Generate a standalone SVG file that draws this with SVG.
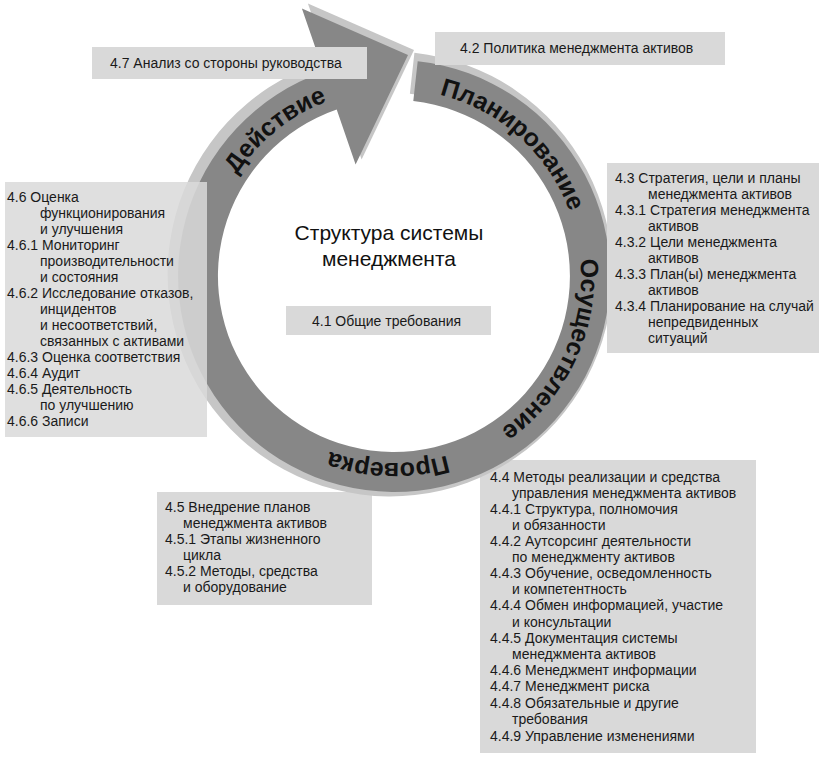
<svg xmlns="http://www.w3.org/2000/svg" xmlns:xlink="http://www.w3.org/1999/xlink" width="822" height="759" viewBox="0 0 822 759">
<style>
.box{fill:#d9d9d9}
.t{font-family:"Liberation Sans",Arial,sans-serif;font-size:14px;fill:#1a1a1a}
.title{font-family:"Liberation Sans",Arial,sans-serif;font-size:21px;fill:#111;text-anchor:middle}
.rt{font-family:"Liberation Sans",Arial,sans-serif;font-size:25px;font-weight:bold;fill:#111;text-anchor:middle}
.dark{fill:#878787}
.light{fill:#c6c6c6}
</style>
<defs>
<path id="ringOnly" d="M417.7,61.3 A216,216 0 1 1 323.7,71.8 L336.7,109.6 A176,176 0 1 0 413.3,101.1 Z"/>
<path id="tp" d="M394,89 A187,187 0 0 1 394,463 A187,187 0 0 1 394,89" fill="none"/>
</defs>
<rect width="822" height="759" fill="#ffffff"/>

<g id="node-4-4">
<rect class="box" x="480" y="460" width="276" height="293"/>
<text class="t">
<tspan x="490" y="482">4.4 Методы реализации и средства</tspan>
<tspan x="512" y="498">управления менеджмента активов</tspan>
<tspan x="490" y="514">4.4.1 Структура, полномочия</tspan>
<tspan x="512" y="530">и обязанности</tspan>
<tspan x="490" y="546">4.4.2 Аутсорсинг деятельности</tspan>
<tspan x="512" y="562">по менеджменту активов</tspan>
<tspan x="490" y="578">4.4.3 Обучение, осведомленность</tspan>
<tspan x="512" y="594">и компетентность</tspan>
<tspan x="490" y="610">4.4.4 Обмен информацией, участие</tspan>
<tspan x="512" y="627">и консультации</tspan>
<tspan x="490" y="643">4.4.5 Документация системы</tspan>
<tspan x="512" y="659">менеджмента активов</tspan>
<tspan x="490" y="675">4.4.6 Менеджмент информации</tspan>
<tspan x="490" y="691">4.4.7 Менеджмент риска</tspan>
<tspan x="490" y="708">4.4.8 Обязательные и другие</tspan>
<tspan x="512" y="724">требования</tspan>
<tspan x="490" y="741">4.4.9 Управление изменениями</tspan>
</text>
</g>

<g id="node-4-5">
<rect class="box" x="157" y="492" width="215" height="113"/>
<text class="t">
<tspan x="165" y="512">4.5 Внедрение планов</tspan>
<tspan x="183" y="528">менеджмента активов</tspan>
<tspan x="165" y="544">4.5.1 Этапы жизненного</tspan>
<tspan x="183" y="560">цикла</tspan>
<tspan x="165" y="576">4.5.2 Методы, средства</tspan>
<tspan x="183" y="592">и оборудование</tspan>
</text>
</g>

<g id="cycle">
<use xlink:href="#ringOnly" class="light" transform="translate(-4,-2) translate(394,276) scale(1.03) translate(-394,-276)"/>
<polygon class="light" points="307.9,3.4 414,50 361.6,159.4"/>
<path class="dark" d="M417.7,61.3 A216,216 0 1 1 323.7,71.8 L301.9,8.4 L408,55 L355.6,164.4 L336.7,109.6 A176,176 0 1 0 413.3,101.1 Z"/>
<text class="rt"><textPath xlink:href="#tp" startOffset="137">Планирование</textPath></text>
<text class="rt"><textPath xlink:href="#tp" startOffset="375">Осуществление</textPath></text>
<text class="rt"><textPath xlink:href="#tp" startOffset="593">Проверка</textPath></text>
<text class="rt"><textPath xlink:href="#tp" startOffset="1047">Действие</textPath></text>
</g>

<g id="center-title">
<text class="title"><tspan x="389" y="240">Структура системы</tspan><tspan x="389" y="266">менеджмента</tspan></text>
</g>

<g id="node-4-1">
<rect class="box" x="286" y="306" width="205" height="29"/>
<text class="t" x="312" y="326">4.1 Общие требования</text>
</g>

<g id="node-4-6">
<rect class="box" x="5" y="182" width="202" height="255" fill-opacity="0.85"/>
<text class="t">
<tspan x="7" y="202">4.6 Оценка</tspan>
<tspan x="40" y="218">функционирования</tspan>
<tspan x="40" y="234">и улучшения</tspan>
<tspan x="7" y="250">4.6.1 Мониторинг</tspan>
<tspan x="40" y="266">производительности</tspan>
<tspan x="40" y="282">и состояния</tspan>
<tspan x="7" y="298">4.6.2 Исследование отказов,</tspan>
<tspan x="40" y="314">инцидентов</tspan>
<tspan x="40" y="330">и несоответствий,</tspan>
<tspan x="40" y="346">связанных с активами</tspan>
<tspan x="7" y="362">4.6.3 Оценка соответствия</tspan>
<tspan x="7" y="378">4.6.4 Аудит</tspan>
<tspan x="7" y="394">4.6.5 Деятельность</tspan>
<tspan x="40" y="410">по улучшению</tspan>
<tspan x="7" y="426">4.6.6 Записи</tspan>
</text>
</g>

<g id="node-4-3">
<rect class="box" x="607" y="163" width="212" height="190"/>
<text class="t">
<tspan x="615" y="183">4.3 Стратегия, цели и планы</tspan>
<tspan x="648" y="199">менеджмента активов</tspan>
<tspan x="615" y="215">4.3.1 Стратегия менеджмента</tspan>
<tspan x="648" y="231">активов</tspan>
<tspan x="615" y="247">4.3.2 Цели менеджмента</tspan>
<tspan x="648" y="263">активов</tspan>
<tspan x="615" y="279">4.3.3 План(ы) менеджмента</tspan>
<tspan x="648" y="295">активов</tspan>
<tspan x="615" y="311">4.3.4 Планирование на случай</tspan>
<tspan x="648" y="327">непредвиденных</tspan>
<tspan x="648" y="343">ситуаций</tspan>
</text>
</g>

<g id="node-4-2">
<rect class="box" x="435" y="32" width="290" height="33"/>
<text class="t" x="460" y="53">4.2 Политика менеджмента активов</text>
</g>

<g id="node-4-7">
<rect class="box" x="92" y="47" width="275" height="32"/>
<text class="t" x="110" y="68">4.7 Анализ со стороны руководства</text>
</g>
</svg>
